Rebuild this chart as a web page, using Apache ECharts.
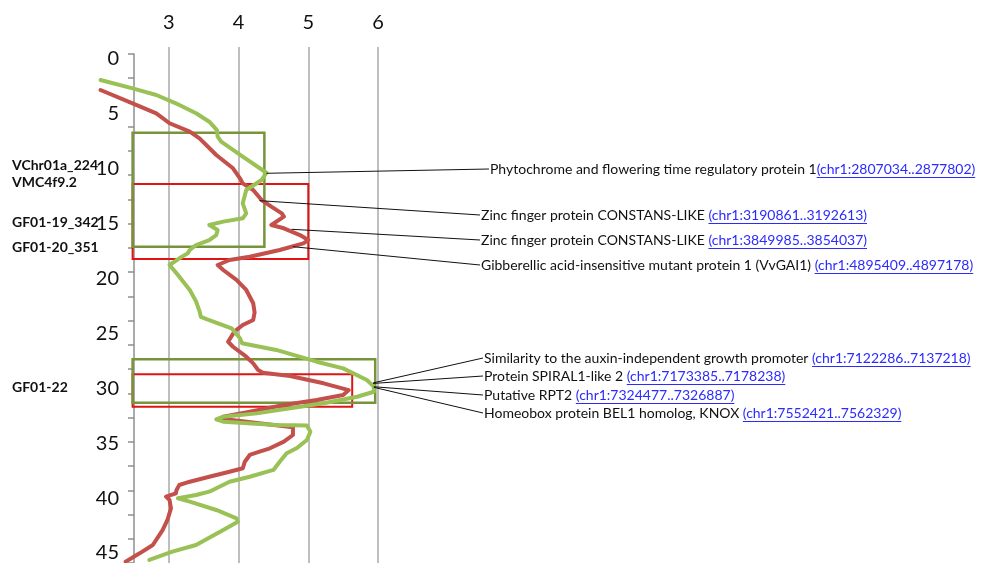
<!DOCTYPE html>
<html>
<head>
<meta charset="utf-8">
<script src="https://cdn.jsdelivr.net/npm/echarts@6/dist/echarts.min.js"></script>
<style>
  html, body { margin: 0; padding: 0; background: #fff; }
  #chart { width: 985px; height: 563px; }
</style>
</head>
<body>
<div id="chart"></div>
<script>
// LOD profiles along chromosome 1: [LOD, position (cM)]
const profileA = [
  [2.02,1.94],[2.48,2.69],[2.82,3.29],[3.10,4.04],[3.39,4.94],[3.58,5.70],[3.69,6.45],
  [3.70,7.05],[3.75,7.50],[4.06,8.85],[4.40,10.30],[4.33,10.96],[4.11,11.86],[4.06,13.06],
  [4.11,13.96],[4.06,14.41],[3.78,14.71],[3.58,15.01],[3.70,15.46],[3.68,15.92],[3.58,16.37],
  [3.39,16.82],[3.30,17.27],[3.27,17.57],[3.15,18.02],[3.01,18.62],[3.15,19.67],[3.30,20.87],
  [3.39,21.90],[3.44,22.80],[3.46,23.30],[3.54,23.50],[3.90,24.33],[4.02,25.23],[4.05,25.68],
  [4.54,26.28],[5.12,27.34],[5.50,27.94],[5.84,28.99],[5.94,29.59],[5.94,30.05],[5.70,30.50],
  [5.22,31.09],[4.74,31.54],[4.26,32.00],[3.78,32.30],[3.68,32.54],[3.78,32.75],[4.54,33.05],
  [4.98,33.10],[5.03,33.65],[4.98,34.40],[4.83,35.15],[4.69,35.60],[4.59,36.36],[4.50,37.10],
  [4.16,37.71],[3.87,38.16],[3.58,39.06],[3.39,39.36],[3.13,39.66],[3.30,39.96],[3.68,40.71],
  [3.97,41.46],[3.99,41.77],[3.78,42.52],[3.39,43.87],[3.05,44.47],[2.72,45.22]
];
const profileB = [
  [2.02,2.84],[2.48,4.04],[2.82,4.94],[3.01,5.84],[3.30,6.60],[3.44,7.20],[3.68,8.70],
  [3.92,9.90],[4.02,10.80],[4.06,11.26],[4.21,11.86],[4.33,12.76],[4.47,13.36],[4.62,13.96],
  [4.65,14.26],[4.47,15.01],[4.65,15.31],[4.88,15.92],[5.00,16.37],[4.93,16.67],[4.59,17.27],
  [4.16,17.87],[3.87,18.17],[3.70,18.62],[3.78,19.07],[3.97,19.97],[4.11,20.87],[4.21,22.07],
  [4.23,22.90],[4.21,23.58],[4.06,24.03],[3.94,24.63],[3.85,25.54],[3.92,25.99],[4.11,26.89],
  [4.21,27.49],[4.28,28.09],[4.35,28.33],[4.74,28.63],[5.22,29.29],[5.58,29.90],[5.50,30.34],
  [5.12,30.79],[4.65,31.24],[4.16,31.85],[3.78,32.30],[3.75,32.48],[4.78,33.25],[4.78,33.95],
  [4.65,34.55],[4.45,35.15],[4.30,35.45],[4.16,35.75],[4.09,36.36],[4.06,36.95],[3.87,37.26],
  [3.58,37.71],[3.30,38.16],[3.15,38.46],[3.11,38.91],[3.10,39.21],[2.96,39.51],[3.01,39.81],
  [3.03,40.56],[2.98,41.61],[2.91,42.52],[2.77,43.87],[2.58,44.62],[2.38,45.37]
];

// QTL support intervals: [LOD from, cM from, LOD to, cM to]
const intervalsA = [[2.48, 6.69, 4.37, 16.97], [2.48, 27.12, 5.96, 31.04]];
const intervalsB = [[2.48, 11.32, 5.00, 18.08], [2.48, 28.48, 5.63, 31.40]];

// Axis tick labels
const lodTicks = [3, 4, 5, 6];
const cmTicks = [0, 5, 10, 15, 20, 25, 30, 35, 40, 45];

// Flanking markers and their map positions (cM)
const markerNames = ['VChr01a_224', 'VMC4f9.2', 'GF01-19_342', 'GF01-20_351', 'GF01-22'];
const markerPos = [9.69, 11.14, 14.83, 17.0, 29.71];

// Candidate genes and the point of the profile each one is tied to [LOD, cM]
const geneNames = [
  'Phytochrome and flowering time regulatory protein 1',
  'Zinc finger protein CONSTANS-LIKE ',
  'Zinc finger protein CONSTANS-LIKE ',
  'Gibberellic acid-insensitive mutant protein 1 (VvGAI1) ',
  'Similarity to the auxin-independent growth promoter ',
  'Protein SPIRAL1-like 2 ',
  'Putative RPT2 ',
  'Homeobox protein BEL1 homolog, KNOX '
];
const geneLinks = [
  '(chr1:2807034..2877802)',
  '(chr1:3190861..3192613)',
  '(chr1:3849985..3854037)',
  '(chr1:4895409..4897178)',
  '(chr1:7122286..7137218)',
  '(chr1:7173385..7178238)',
  '(chr1:7324477..7326887)',
  '(chr1:7552421..7562329)'
];
const geneAnchors = [
  [4.40,10.35],[4.30,12.82],[4.76,15.40],[4.78,16.97],
  [5.93,29.25],[5.93,29.30],[5.94,29.60],[5.94,29.65]
];

const FONT = 'Lato, "Open Sans", sans-serif';
const GREEN = '#99c155';
const RED = '#c3504b';

function toAreas(list) {
  return list.map(r => [{ xAxis: r[0], yAxis: r[1] }, { xAxis: r[2], yAxis: r[3] }]);
}

const chart = echarts.init(document.getElementById('chart'), null, { renderer: 'canvas' });

// Plot frame: LOD axis shown from 2.5 to 6, cM running downward
const AXIS_X = 134, PLOT_RIGHT = 378, PLOT_TOP = 47, H = 563, W = 985;
const lodPx = (PLOT_RIGHT - AXIS_X) / 3.5;
const cmPx = 11.09;
const cmZeroY = 58.5;
const DATA_MIN_LOD = 2;

chart.setOption({
  animation: false,
  backgroundColor: '#ffffff',
  grid: [
    { left: AXIS_X - (2.5 - DATA_MIN_LOD) * lodPx, right: W - PLOT_RIGHT, top: PLOT_TOP, bottom: 0 },
    { left: AXIS_X, right: W - PLOT_RIGHT, top: cmZeroY, height: 45 * cmPx },
    { left: AXIS_X, right: W - PLOT_RIGHT, top: 54, bottom: 0 },
    { left: AXIS_X + 0.5 * lodPx, right: W - PLOT_RIGHT, top: PLOT_TOP, bottom: 0 }
  ],
  xAxis: [
    { gridIndex: 0, type: 'value', min: DATA_MIN_LOD, max: 6, show: false },
    { gridIndex: 1, type: 'value', min: 0, max: 1, show: false },
    { gridIndex: 2, type: 'value', min: 0, max: 1, show: false },
    {
      gridIndex: 3, type: 'value', position: 'top',
      min: lodTicks[0], max: lodTicks[lodTicks.length - 1], interval: 1,
      axisLine: { show: false }, axisTick: { show: false },
      splitLine: { show: true, lineStyle: { color: '#a8a8a8', width: 1.5 } },
      axisLabel: { fontSize: 20, color: '#111', fontFamily: FONT, margin: 14 }
    }
  ],
  yAxis: [
    {
      gridIndex: 0, type: 'value', inverse: true,
      min: -(cmZeroY - PLOT_TOP) / cmPx,
      max: -(cmZeroY - PLOT_TOP) / cmPx + (H - PLOT_TOP) / cmPx,
      show: false
    },
    {
      gridIndex: 1, type: 'value', inverse: true,
      min: cmTicks[0], max: cmTicks[cmTicks.length - 1], interval: 5,
      axisLine: { show: false }, axisTick: { show: false }, splitLine: { show: false },
      axisLabel: { fontSize: 20, color: '#111', fontFamily: FONT, margin: 15 }
    },
    {
      gridIndex: 2, type: 'value', inverse: true, min: 0, max: 21, interval: 1,
      axisLine: { show: true, lineStyle: { color: '#8f8f8f', width: 1.5 } },
      axisTick: { show: true, length: 6, lineStyle: { color: '#8f8f8f', width: 1.5 } },
      axisLabel: { show: false }, splitLine: { show: false }
    },
    { gridIndex: 3, type: 'value', min: 0, max: 1, show: false }
  ],
  series: [
    {
      type: 'line', xAxisIndex: 0, yAxisIndex: 0, data: profileB, clip: false,
      showSymbol: false, symbol: 'none', z: 3,
      lineStyle: { color: RED, width: 4, join: 'round', cap: 'round' },
      markArea: {
        silent: true,
        itemStyle: { color: 'rgba(0,0,0,0)', borderColor: '#e01414', borderWidth: 2 },
        data: toAreas(intervalsB)
      }
    },
    {
      type: 'line', xAxisIndex: 0, yAxisIndex: 0, data: profileA, clip: false,
      showSymbol: false, symbol: 'none', z: 4,
      lineStyle: { color: GREEN, width: 4, join: 'round', cap: 'round' },
      markArea: {
        silent: true,
        itemStyle: { color: 'rgba(0,0,0,0)', borderColor: '#77943b', borderWidth: 2.5 },
        data: toAreas(intervalsA)
      }
    }
  ]
});

// Annotation layout: label rows on the right, marker names on the left
const labelRows = [
  { x: 490, y: 169 }, { x: 481, y: 215 }, { x: 481, y: 240 }, { x: 481, y: 265 },
  { x: 484, y: 358 }, { x: 484, y: 376 }, { x: 484, y: 395 }, { x: 484, y: 413 }
];
const LABEL_SIZE = 14;
const labelFont = LABEL_SIZE + 'px ' + FONT;
const ctx = document.createElement('canvas').getContext('2d');
ctx.font = labelFont;

const graphics = [];
geneNames.forEach((name, i) => {
  const a = chart.convertToPixel({ gridIndex: 0 }, geneAnchors[i]);
  const row = labelRows[i];
  graphics.push({
    type: 'line', silent: true, z: 10,
    shape: { x1: a[0], y1: a[1], x2: row.x - 1, y2: row.y },
    style: { stroke: '#111', lineWidth: 1 }
  });
  const nameW = ctx.measureText(name).width;
  const linkW = ctx.measureText(geneLinks[i]).width;
  graphics.push({
    type: 'text', silent: true, z: 10, x: row.x, y: row.y,
    style: { text: name, font: labelFont, fill: '#111', verticalAlign: 'middle' }
  });
  graphics.push({
    type: 'text', silent: true, z: 10, x: row.x + nameW, y: row.y,
    style: { text: geneLinks[i], font: labelFont, fill: '#2b2bff', verticalAlign: 'middle' }
  });
  graphics.push({
    type: 'line', silent: true, z: 10,
    shape: { x1: row.x + nameW, y1: row.y + 8.5, x2: row.x + nameW + linkW, y2: row.y + 8.5 },
    style: { stroke: '#2b2bff', lineWidth: 1 }
  });
});

markerNames.forEach((m, i) => {
  const p = chart.convertToPixel({ gridIndex: 0 }, [2.5, markerPos[i]]);
  graphics.push({
    type: 'text', silent: true, z: 10, x: 12, y: p[1],
    style: { text: m, font: 'bold 14px ' + FONT, fill: '#111', verticalAlign: 'middle' }
  });
});

chart.setOption({ graphic: graphics });
</script>
</body>
</html>
